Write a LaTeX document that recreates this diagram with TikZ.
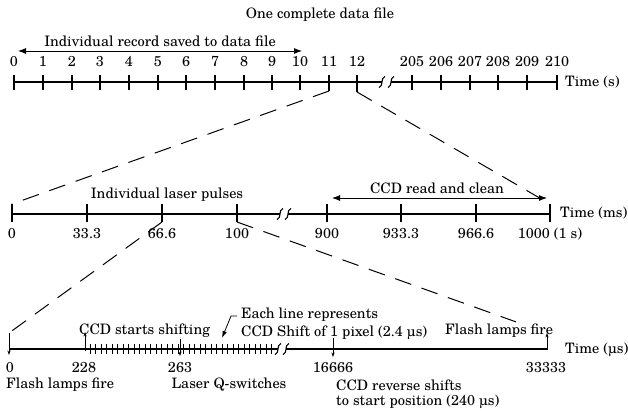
\documentclass[tikz,border=0pt]{standalone}
\usepackage{fontspec}
\setmainfont{TeX Gyre Schola}
\usetikzlibrary{arrows.meta,calc}
\begin{document}
\begin{tikzpicture}[x=1pt,y=-1pt,
  font=\fontsize{14.4}{16}\selectfont,
  axisline/.style={line width=1.2pt},
  tck/.style={line width=1.2pt},
  smalltck/.style={line width=0.75pt},
  zoomline/.style={line width=1pt,dash pattern=on 17pt off 11pt},
  lbl/.style={anchor=base,inner sep=0pt},
  lbll/.style={anchor=base west,inner sep=0pt},
  dimarrow/.style={line width=0.9pt,{Latex[length=8pt,width=6pt]}-{Latex[length=8pt,width=6pt]}},
  evup/.style={line width=0.8pt,-{Stealth[length=4.5pt,width=3.2pt]}},
  brk/.style={line width=1.1pt}]
\useasboundingbox (0,0) rectangle (628,410);
% ---------- Row 1 (s) ----------
\node[lbl] (title) at (320,18) {One complete data file};
\coordinate (r1a) at (18,51);
\coordinate (r1b) at (302,51);
\draw[dimarrow] (r1a) -- (r1b);
\node[lbl] (rec) at (160,46) {Individual record saved to data file};
\coordinate (r1s) at (14,82);
\coordinate (r1bl) at (382,82);
\coordinate (r1br) at (391,82);
\coordinate (r1e) at (557,82);
\draw[axisline] (r1s) -- (r1bl);
\draw[axisline] (r1br) -- (r1e);
\foreach \c in {382,391}
  \draw[brk] (\c-3,87.5) .. controls (\c+2,86) and (\c-2,78) .. (\c+3,76.5);
\foreach \x/\l in {14/0,43/1,72/2,100/3,129/4,158/5,186/6,215/7,244/8,272/9,300/10,412/205,441/206,470/207,498/208,527/209,557/210}{
  \draw[tck] (\x,75) -- (\x,90);
  \node[lbl] at (\x,66) {\l};
}
\coordinate (t11b) at (329,91);
\coordinate (t12b) at (357,92);
\draw[tck] (329,75) -- (t11b);
\draw[tck] (357,75) -- (t12b);
\node[lbl] at (329,66) {11};
\node[lbl] at (357,66) {12};
\node[lbll] (ts) at (565,86) {Time (s)};
% ---------- Row 2 (ms) ----------
\coordinate (r2s) at (12,214);
\coordinate (r2bl) at (280,214);
\coordinate (r2br) at (288,214);
\coordinate (r2e) at (550,214);
\draw[axisline] (r2s) -- (r2bl);
\draw[axisline] (r2br) -- (r2e);
\foreach \c in {280,288}
  \draw[brk] (\c-3,219.5) .. controls (\c+2,218) and (\c-2,210) .. (\c+3,208.5);
\foreach \x/\l in {12/0,87/33.3,162/66.6,237/100,327/900,401/933.3,476/966.6,550/1000 (1 s)}{
  \draw[tck] (\x,204) -- (\x,222);
  \node[lbl] at (\x,238) {\l};
}
\coordinate (t0top) at (12,204);
\coordinate (t1000top) at (550,204);
\coordinate (t66b) at (162,222);
\coordinate (t100b) at (237,222);
\node[lbll] (tms) at (560,217) {Time (ms)};
\node[lbl] (pulses) at (167,198) {Individual laser pulses};
\coordinate (r2a) at (332,198);
\coordinate (r2b) at (547,198);
\draw[dimarrow] (r2a) -- (r2b);
\node[lbl] (ccdread) at (437,193) {CCD read and clean};
% zoom lines row1 -> row2
\draw[zoomline] (t11b) -- (t0top);
\draw[zoomline] (t12b) -- (t1000top);
% ---------- Row 3 (us) ----------
\coordinate (r3s) at (9,349);
\coordinate (r3bl) at (278,349);
\coordinate (r3br) at (286,349);
\coordinate (r3e) at (547,349);
\draw[axisline] (r3s) -- (r3bl);
\draw[axisline] (r3br) -- (r3e);
\foreach \c in {278,286}
  \draw[brk] (\c-3,354.5) .. controls (\c+2,353) and (\c-2,345) .. (\c+3,343.5);
\foreach \i in {0,...,33}
  \draw[smalltck] (90+\i*5.5,344) -- (90+\i*5.5,354);
\coordinate (e0t) at (9,333);
\coordinate (e0b) at (9,355);
\draw[evup] (e0t) -- (e0b);
\coordinate (e228b) at (85,351);
\coordinate (e228t) at (85,332);
\draw[evup] (e228b) -- (e228t);
\coordinate (e263t) at (180,339);
\coordinate (e263b) at (180,356);
\draw[evup] (e263t) -- (e263b);
\coordinate (e166t) at (333,338);
\coordinate (e166b) at (333,357);
\draw[evup] (e166t) -- (e166b);
\coordinate (e333b) at (547,350);
\coordinate (e333t) at (547,333);
\draw[evup] (e333b) -- (e333t);
\foreach \x/\l in {10/0,84/228,180/263,333/16666,546/33333}
  \node[lbl] at (\x,372.5) {\l};
\node[lbll] (tus) at (565,353) {Time (µs)};
\node[lbll] (flash1) at (6,388) {Flash lamps fire};
\node[lbl] (qsw) at (229,388) {Laser Q-switches};
\node[lbll] (ccdstart) at (79,334) {CCD starts shifting};
\node[lbll] (each1) at (241,318) {Each line represents};
\node[lbll] (each2) at (241,336) {CCD Shift of 1 pixel (2.4 µs)};
\node[lbll] (flash2) at (445,334) {Flash lamps fire};
\node[lbll] (rev1) at (336,390) {CCD reverse shifts};
\node[lbll] (rev2) at (336,405) {to start position (240 µs)};
\coordinate (ea0) at (237,316);
\coordinate (ea1) at (231,316);
\coordinate (ea2) at (222,338);
\draw[line width=0.8pt,-{Latex[length=7pt,width=4.5pt]}] (ea0) -- (ea1) -- (ea2);
% zoom lines row2 -> row3
\draw[zoomline] (t66b) -- (e0t);
\draw[zoomline] (t100b) -- ($(t100b)!0.9!(e333t)$);
\end{tikzpicture}
\end{document}
